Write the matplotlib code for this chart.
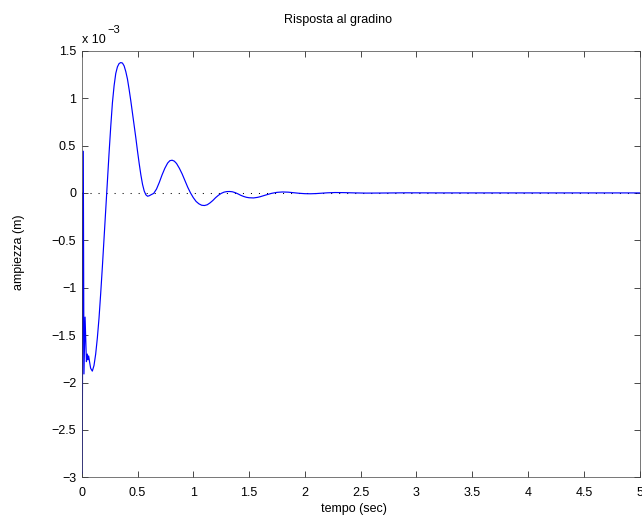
import matplotlib
matplotlib.use("Agg")
import matplotlib.pyplot as plt
from matplotlib.ticker import FuncFormatter

plt.rcParams['font.family'] = ['Liberation Sans', 'DejaVu Sans']

# Step response (amplitude in units of 1e-3 m)
time_s = [0.0, 0.004, 0.014, 0.020, 0.030, 0.042, 0.050, 0.056, 0.062, 0.070, 0.080, 0.095,
          0.110, 0.125, 0.140, 0.155, 0.170, 0.185, 0.200, 0.215, 0.230, 0.245, 0.260, 0.275,
          0.290, 0.305, 0.320, 0.335, 0.350, 0.365, 0.380, 0.395, 0.410, 0.425, 0.440, 0.455,
          0.470, 0.485, 0.500, 0.515, 0.530, 0.545, 0.560, 0.575, 0.590, 0.605, 0.620, 0.645,
          0.670, 0.695, 0.720, 0.745, 0.770, 0.790, 0.810, 0.830, 0.850, 0.875, 0.900, 0.925,
          0.950, 0.975, 1.000, 1.025, 1.050, 1.075, 1.100, 1.125, 1.150, 1.175, 1.200, 1.225,
          1.250, 1.275, 1.300, 1.325, 1.350, 1.375, 1.400, 1.425, 1.450, 1.475, 1.500, 1.540,
          1.575, 1.600, 1.650, 1.700, 1.750, 1.800, 1.850, 1.900, 1.950, 2.000, 2.050, 2.100,
          2.150, 2.200, 2.270, 2.350, 2.450, 2.550, 2.700, 2.900, 3.200, 5.000]
amp_e3 = [0.0, -2.96, 0.44, -1.91, -1.31, -1.78, -1.70, -1.76, -1.72, -1.78, -1.85, -1.88,
          -1.82, -1.70, -1.53, -1.32, -1.06, -0.78, -0.48, -0.18, 0.12, 0.42, 0.70, 0.95,
          1.13, 1.26, 1.33, 1.365, 1.375, 1.37, 1.34, 1.28, 1.20, 1.09, 0.97, 0.84,
          0.71, 0.58, 0.44, 0.31, 0.19, 0.09, 0.02, -0.02, -0.035, -0.03, -0.02, -0.005,
          0.04, 0.11, 0.19, 0.26, 0.315, 0.34, 0.345, 0.335, 0.31, 0.26, 0.20, 0.13,
          0.06, 0.0, -0.05, -0.09, -0.115, -0.13, -0.133, -0.125, -0.105, -0.08, -0.05, -0.025,
          -0.005, 0.008, 0.014, 0.015, 0.012, 0.003, -0.01, -0.025, -0.037, -0.046, -0.051, -0.053,
          -0.047, -0.04, -0.022, -0.005, 0.006, 0.01, 0.008, 0.002, -0.004, -0.008, -0.009, -0.007,
          -0.003, 0.001, 0.004, 0.003, 0.0, -0.002, -0.001, 0.001, 0.0, 0.0]

x_ticks = [0, 0.5, 1, 1.5, 2, 2.5, 3, 3.5, 4, 4.5, 5]
y_ticks = [-3, -2.5, -2, -1.5, -1, -0.5, 0, 0.5, 1, 1.5]
ref_level = [0.0, 0.0]
ref_time = [0.0, 5.0]

fig = plt.figure(figsize=(6.42, 5.16), dpi=100)
ax = fig.add_axes([0.1273, 0.075, 0.869, 0.8267])

ax.plot(ref_time, ref_level, color='black', linestyle=(0, (1, 6.7)), linewidth=0.75)
ax.plot(time_s, amp_e3, color='#0000ff', linewidth=0.85)

ax.set_xlim(0, 5)
ax.set_ylim(-3, 1.5)
ax.set_xticks(x_ticks)
ax.set_yticks(y_ticks)
fmt = FuncFormatter(lambda v, p: ('%g' % v).replace('-', '\u2212'))
ax.xaxis.set_major_formatter(fmt)
ax.yaxis.set_major_formatter(fmt)
ax.tick_params(axis='both', direction='in', length=4, width=0.5, top=True, right=True,
               labelsize=9, colors='black')
ax.tick_params(axis='x', pad=7)
ax.tick_params(axis='y', pad=4)
for s in ax.spines.values():
    s.set_linewidth(0.5)
    s.set_color('#404040')

ax.text(0.4595, 1.0720, 'Risposta al gradino', transform=ax.transAxes,
        fontsize=9, ha='center', va='center')
ax.set_xlabel('tempo (sec)', fontsize=9, va='center', ha='center')
ax.xaxis.set_label_coords(0.4876, -0.0735)
ax.set_ylabel('ampiezza (m)', fontsize=9, va='center', ha='center')
ax.yaxis.set_label_coords(-0.1124, 0.528)
ax.text(0.0, 1.0255, 'x 10', transform=ax.transAxes, fontsize=9, ha='left', va='center')
ax.text(0.0454, 1.0478, '\u22123', transform=ax.transAxes, fontsize=8, ha='left', va='center')

fig.savefig('out.png', dpi=100)
